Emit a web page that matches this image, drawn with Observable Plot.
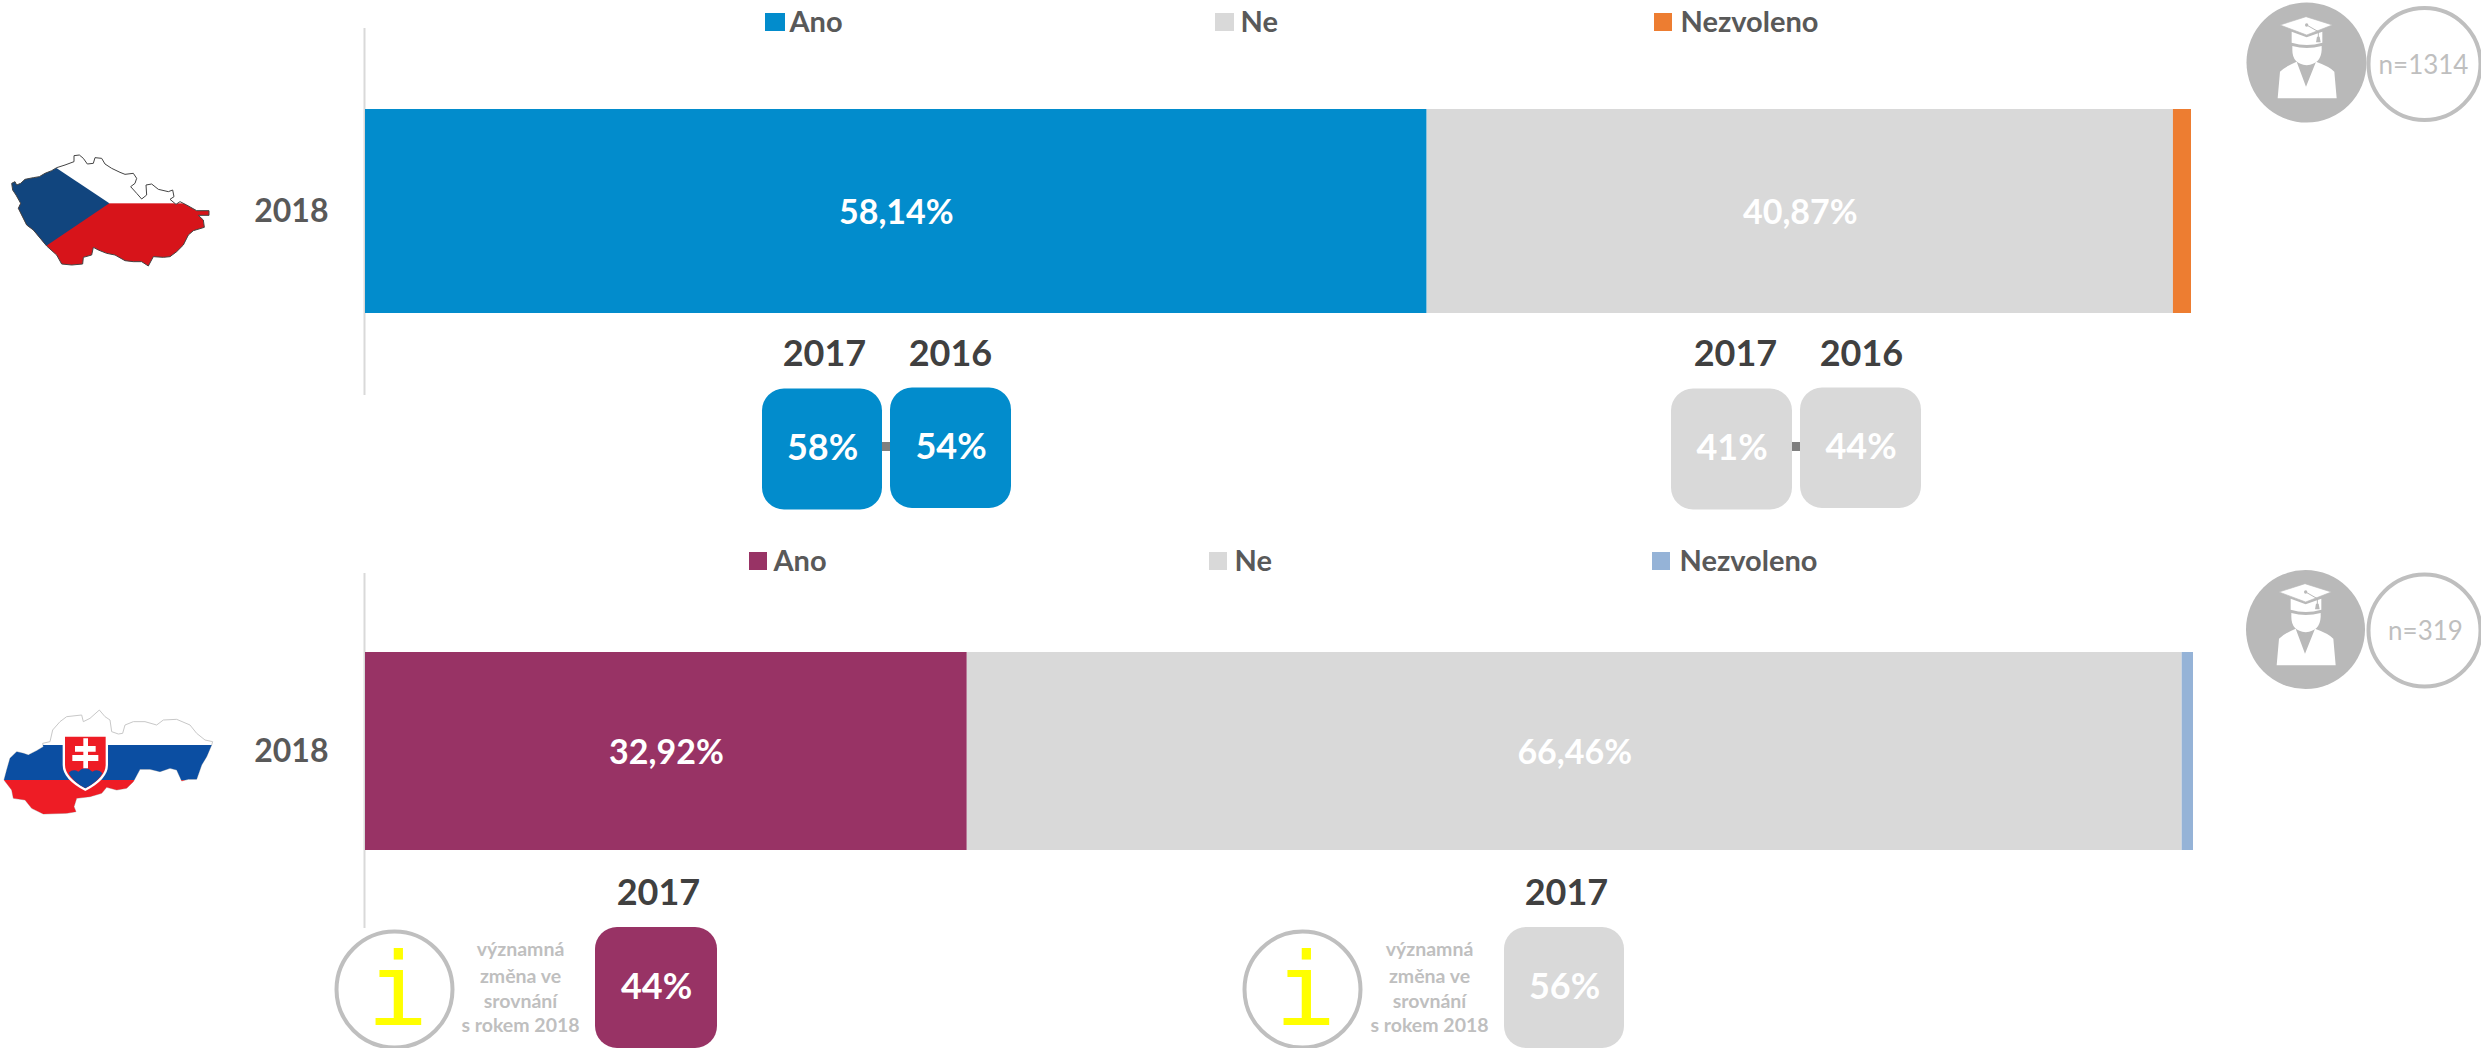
<!DOCTYPE html>
<html lang="cs">
<head>
<meta charset="utf-8">
<title>Ano / Ne / Nezvoleno</title>
<script src="https://cdn.jsdelivr.net/npm/d3@7"></script>
<script src="https://cdn.jsdelivr.net/npm/@observablehq/plot@0.6"></script>
<style>
html,body{margin:0;padding:0;background:#fff;width:2481px;height:1048px;overflow:hidden}
svg{display:block}
</style>
</head>
<body>
<div id="chart"></div>
<script>
// ---- data ----
const categories = ["Ano", "Ne", "Nezvoleno"];
const years = ["2018"];
const czValues = [58.14, 40.87, 0.99];
const skValues = [32.92, 66.46, 0.62];
const cz2017 = [58, 41];
const cz2016 = [54, 44];
const sk2017 = [44, 56];
const czSample = "n=1314";
const skSample = "n=319";
const noteLines = ["významná", "změna ve", "srovnání", "s rokem 2018"];
const czColors = ["#028ccc", "#d9d9d9", "#ed7d31"];
const skColors = ["#983365", "#d9d9d9", "#95b3d7"];

const pct2 = v => v.toFixed(2).replace(".", ",") + "%";
const FONT = "Lato";
const DARK = "#404040", MID = "#595959", LIGHT = "#bfbfbf";

// ---- decorations (hand traced, in zoomed 3x pixels) ----
const CZ_PATH = "M35,130L45,125L50,135L62,130L75,118L100,113L118,110L135,100L155,92L170,83L195,75L222,65L222,47L238,45L250,55L262,72L280,70L285,53L305,55L315,72L335,85L360,97L375,103L400,100L410,115L405,130L392,140L410,160L425,177L440,165L438,135L455,132L475,148L505,155L518,150L522,170L510,178L528,193L540,185L560,195L590,212L627,212L627,226L595,226L610,240L613,262L580,272L565,285L550,315L530,335L510,350L490,352L460,350L445,378L425,365L400,365L375,362L345,345L320,340L295,330L280,322L275,345L250,352L248,372L215,375L185,372L170,345L140,318L125,300L100,270L80,255L65,225L55,205L62,190L48,165L38,150Z";
const SK_PATH = "M12,240L20,210L30,175L50,155L70,160L85,165L110,152L130,140L128,130L150,125L158,90L180,65L200,50L245,45L250,65L270,55L298,30L315,50L330,60L335,95L355,102L368,100L375,75L400,65L435,65L470,75L490,60L530,58L570,75L590,100L615,120L638,125L635,135L620,170L605,195L590,238L565,238L545,243L530,210L510,205L480,215L450,208L420,208L400,245L380,265L350,270L320,262L305,280L270,290L230,295L222,320L228,335L200,340L130,342L95,325L75,300L40,295L35,270Z";

function czFlag(top) {
  return () => {
    const g = d3.create("svg:g").attr("transform", `translate(0,${140 - top}) scale(${1 / 3})`);
    g.append("clipPath").attr("id", "cz-clip").append("path").attr("d", CZ_PATH);
    const f = g.append("g").attr("clip-path", "url(#cz-clip)");
    f.append("rect").attr("width", 700).attr("height", 190).attr("fill", "#fff");
    f.append("rect").attr("y", 190).attr("width", 700).attr("height", 220).attr("fill", "#d7141a");
    f.append("path").attr("d", "M168,83L328,190L138,318L0,318L0,83Z").attr("fill", "#11457e");
    g.append("path").attr("d", CZ_PATH).attr("fill", "none").attr("stroke", "#444").attr("stroke-width", 3);
    return g.node();
  };
}
function skFlag(top) {
  return () => {
    const g = d3.create("svg:g").attr("transform", `translate(0,${700 - top}) scale(${1 / 3})`);
    g.append("path").attr("d", SK_PATH).attr("fill", "#fff").attr("stroke", "#c8c8c8").attr("stroke-width", 3);
    g.append("clipPath").attr("id", "sk-clip").append("path").attr("d", SK_PATH);
    const f = g.append("g").attr("clip-path", "url(#sk-clip)");
    f.append("rect").attr("y", 135).attr("width", 700).attr("height", 105).attr("fill", "#0b4ea2");
    f.append("rect").attr("y", 240).attr("width", 700).attr("height", 120).attr("fill", "#ee1c25");
    g.append("path").attr("d", "M188,106H324V195Q324,238 256,273Q188,238 188,195Z").attr("fill", "#fff");
    g.append("path").attr("d", "M195,110H317V195Q317,232 256,265Q195,232 195,195Z").attr("fill", "#ee1c25");
    g.append("path").attr("d", "M206,218Q220,205 235,215Q255,195 277,215Q295,205 307,220Q295,245 256,265Q218,245 206,218Z").attr("fill", "#0b4ea2");
    g.append("path").attr("d", "M250,115H264V138H287V155H264V165H295V183H264V205H250V183H217V165H250V155H225V138H250Z").attr("fill", "#fff");
    return g.node();
  };
}
function gradIcon(dx, dy) {
  return () => {
    const g = d3.create("svg:g").attr("transform", `translate(${2235 + dx},${dy}) scale(${1 / 3})`);
    const w = "#ffffff", s = "#b9b9b9";
    g.append("path").attr("fill", w).attr("d", "M128,295L135,215Q150,200 185,185L213,260L243,185Q285,200 298,215L305,295Z");
    g.append("path").attr("fill", w).attr("d", "M172,138Q215,150 260,138V150Q258,192 215,196Q172,192 172,150Z");
    g.append("path").attr("fill", w).attr("d", "M170,95L215,112L262,95V128Q215,142 170,128Z");
    g.append("path").attr("fill", w).attr("stroke", s).attr("stroke-width", 2).attr("d", "M135,75L213,50L292,75L215,105Z");
    g.append("path").attr("fill", "none").attr("stroke", s).attr("stroke-width", 3).attr("d", "M215,75L250,95V112");
    g.append("path").attr("fill", s).attr("d", "M246,110H254L257,127H243Z");
    g.append("circle").attr("cx", 215).attr("cy", 75).attr("r", 5).attr("fill", s);
    return g.node();
  };
}

// ---- shared panel builder ----
function panel(cfg) {
  const {top, height, values, colors, xEnd, barTop, barBottom, ruleTop, ruleBottom, legend} = cfg;
  const x0 = 365;
  const toX = px => (px - x0) / ((xEnd - x0) / 100);
  const rows = categories.map((category, i) => ({category, year: years[0], value: values[i], label: i < 2 ? pct2(values[i]) : ""}));
  const place = {frameAnchor: "top", lineAnchor: "middle", fontFamily: FONT, fontWeight: 700};
  const marks = [
    Plot.ruleX([0], {stroke: "#d9d9d9", strokeWidth: 2, dx: -1, insetTop: ruleTop - top, insetBottom: top + height - ruleBottom}),
    Plot.barX(rows, Plot.stackX({x: "value", y: "year", fill: "category", order: null})),
    Plot.text(rows, Plot.stackX({
      x: "value", y: "year", order: null, text: "label", fill: "#fff",
      fontFamily: FONT, fontWeight: 700, fontSize: cfg.barFont, dy: 2
    })),
    Plot.axisY({anchor: "left", tickSize: 0, tickPadding: 37, fontSize: 32, fontWeight: 700, fill: MID, label: null})
  ];
  // legend
  legend.forEach((l, i) => {
    marks.push(Plot.rect([{category: categories[i]}], {
      x1: () => toX(l.sq[0]), x2: () => toX(l.sq[1]), fill: "category",
      insetTop: l.y[0] - top, insetBottom: top + height - l.y[1]
    }));
    marks.push(Plot.text([categories[i]], {
      ...place, x: () => toX(l.tx), text: d => d, dy: l.ty - top, textAnchor: "start", fontSize: 29, fill: MID
    }));
  });
  // sample size badge
  marks.push(Plot.dot([0], {x: () => toX(cfg.ring[0]), frameAnchor: "top", dy: cfg.ring[1] - top, r: cfg.ring[2], fill: "#fff", stroke: LIGHT, strokeWidth: 4}));
  marks.push(Plot.dot([0], {x: () => toX(cfg.icon[0]), frameAnchor: "top", dy: cfg.icon[1] - top, r: cfg.icon[2], fill: "#b9b9b9"}));
  marks.push(gradIcon(cfg.icon[0] - 2306, cfg.icon[1] - 62 - top));
  marks.push(Plot.text([cfg.sample], {...place, x: () => toX(cfg.nText[0]), text: d => d, dy: cfg.nText[1] - top, fontWeight: 400, fontSize: 26, fill: LIGHT}));
  // previous-year chips
  cfg.chips.forEach(c => {
    marks.push(Plot.rect([{category: c.category}], {
      x1: () => toX(c.x[0]), x2: () => toX(c.x[1]), fill: "category", rx: 22, ry: 22,
      insetTop: c.y[0] - top, insetBottom: top + height - c.y[1]
    }));
    marks.push(Plot.text([c.value + "%"], {...place, x: () => toX((c.x[0] + c.x[1]) / 2), text: d => d, dy: c.vy - top, fontSize: 36, fill: "#fff"}));
    marks.push(Plot.text([c.year], {...place, x: () => toX(c.yx), text: d => d, dy: c.yy - top, fontSize: 36, fill: DARK}));
  });
  (cfg.links || []).forEach(l => {
    marks.push(Plot.rect([0], {x1: () => toX(l[0]), x2: () => toX(l[1]), fill: "#7f7f7f", insetTop: l[2] - top, insetBottom: top + height - l[3]}));
  });
  // "significant change" notes
  (cfg.notes || []).forEach(n => {
    marks.push(Plot.dot([0], {x: () => toX(n.cx), frameAnchor: "top", dy: n.cy - top, r: 58, fill: "#fff", stroke: LIGHT, strokeWidth: 4}));
    marks.push(Plot.text(["i"], {...place, x: () => toX(n.ix), text: d => d, dy: n.iy - top, fontFamily: "DejaVu Sans Mono", fontWeight: 400, fontSize: 102, fill: "#ffff00"}));
    noteLines.forEach((line, i) => {
      marks.push(Plot.text([line], {...place, x: () => toX(n.tx), text: d => d, dy: [949, 976, 1001, 1025][i] - top, fontSize: 19.5, fill: LIGHT}));
    });
  });
  marks.push(cfg.flag);
  return Plot.plot({
    width: 2481, height,
    marginLeft: x0, marginRight: 2481 - xEnd, marginTop: 0, marginBottom: 0,
    style: {fontFamily: FONT, background: "#fff", overflow: "visible"},
    x: {domain: [0, 100], axis: null},
    y: {type: "band", domain: years, range: [barTop - top, barBottom - top], padding: 0, align: 0.5, axis: null, label: null},
    color: {type: "ordinal", domain: categories, range: colors},
    marks
  });
}

const czPanel = panel({
  top: 0, height: 530, values: czValues, colors: czColors, xEnd: 2191,
  barTop: 109, barBottom: 313, ruleTop: 28, ruleBottom: 395, barFont: 34, sample: czSample,
  legend: [
    {sq: [765, 785], y: [13, 31], tx: 789, ty: 22},
    {sq: [1215, 1234], y: [13, 31], tx: 1240, ty: 22},
    {sq: [1654, 1672], y: [13, 31], tx: 1680, ty: 22}
  ],
  ring: [2424, 63.5, 56], icon: [2306, 62, 60], nText: [2423, 65],
  chips: [
    {category: categories[0], x: [762, 882], y: [388.5, 509.5], value: cz2017[0], vy: 448, year: "2017", yx: 824, yy: 354},
    {category: categories[0], x: [890, 1011], y: [387.5, 508], value: cz2016[0], vy: 447, year: "2016", yx: 950, yy: 354},
    {category: categories[1], x: [1671, 1792], y: [388.5, 509.5], value: cz2017[1], vy: 448, year: "2017", yx: 1735, yy: 354},
    {category: categories[1], x: [1800, 1921], y: [387.5, 508], value: cz2016[1], vy: 447, year: "2016", yx: 1861, yy: 354}
  ],
  links: [[882, 890, 442, 451], [1792, 1800, 442, 451]],
  flag: czFlag(0)
});

const skPanel = panel({
  top: 530, height: 518, values: skValues, colors: skColors, xEnd: 2193,
  barTop: 652, barBottom: 850, ruleTop: 573, ruleBottom: 928, barFont: 34, sample: skSample,
  legend: [
    {sq: [749, 767], y: [552, 570], tx: 773, ty: 561},
    {sq: [1209, 1227], y: [552, 570], tx: 1234, ty: 561},
    {sq: [1652, 1670], y: [552, 570], tx: 1679, ty: 561}
  ],
  ring: [2424, 630, 56], icon: [2305, 629, 59.5], nText: [2425, 631],
  chips: [
    {category: categories[0], x: [595, 717], y: [927, 1048], value: sk2017[0], vy: 987, year: "2017", yx: 658, yy: 893},
    {category: categories[1], x: [1504, 1624], y: [927, 1048], value: sk2017[1], vy: 987, year: "2017", yx: 1566, yy: 893}
  ],
  notes: [
    {cx: 394, cy: 989, ix: 397, iy: 992, tx: 520},
    {cx: 1302, cy: 989, ix: 1305, iy: 992, tx: 1429}
  ],
  flag: skFlag(530)
});

document.getElementById("chart").append(czPanel, skPanel);
</script>
</body>
</html>
